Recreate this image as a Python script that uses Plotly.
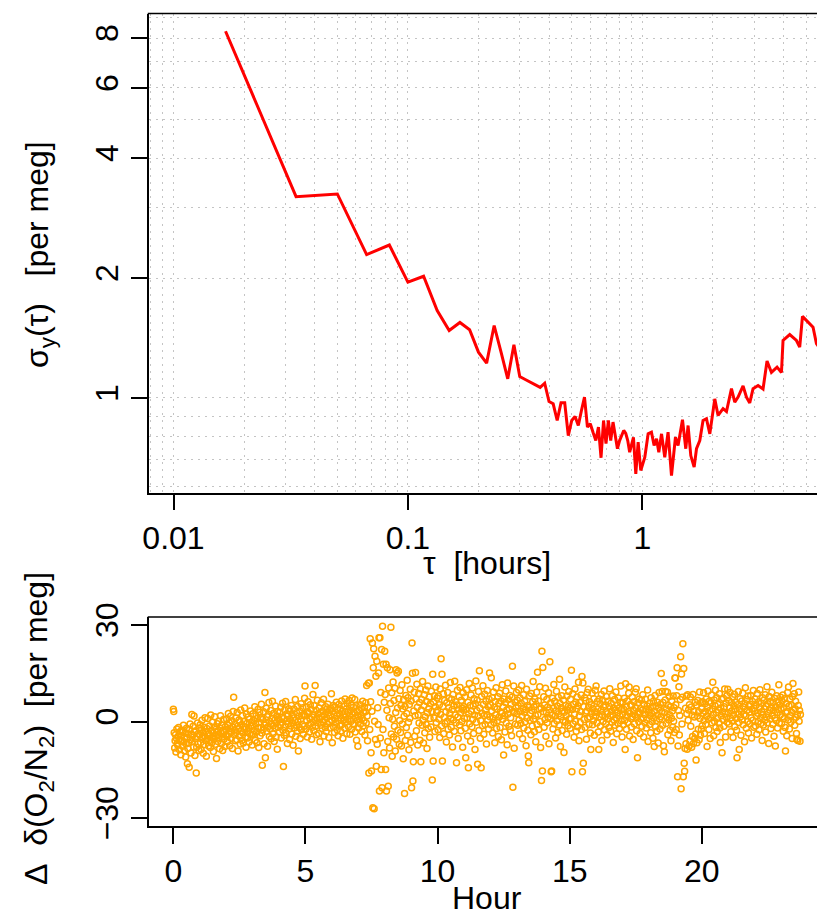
import plotly.graph_objects as go

# ---------------- Allan deviation (top panel) ----------------
tau_hours = [
    0.01667, 0.03333, 0.05, 0.06667, 0.08333, 0.1, 0.11667, 0.13333, 0.15, 0.16667,
    0.18333, 0.2, 0.21667, 0.23333, 0.25, 0.26667, 0.28333, 0.3, 0.31667, 0.33333,
    0.35, 0.36667, 0.38333, 0.4, 0.41667, 0.43333, 0.45, 0.46667, 0.48333, 0.5,
    0.51667, 0.53333, 0.55, 0.56667, 0.58333, 0.6, 0.61667, 0.63333, 0.65, 0.66667,
    0.68333, 0.7, 0.71667, 0.73333, 0.75, 0.76667, 0.78333, 0.8, 0.81667, 0.83333,
    0.85, 0.86667, 0.88333, 0.9, 0.91667,
    0.938, 0.960, 0.985, 1.025, 1.059, 1.094, 1.123, 1.150, 1.176, 1.208,
    1.247, 1.288, 1.332, 1.385, 1.421, 1.484, 1.533, 1.568, 1.610, 1.664,
    1.703, 1.759, 1.816, 1.878, 1.941, 2.038, 2.105, 2.211, 2.286, 2.401,
    2.480, 2.562, 2.691, 2.782, 2.873, 2.968, 3.118, 3.274, 3.405, 3.556,
    3.757, 3.923, 3.985, 4.256, 4.546, 4.695, 4.823, 5.094, 5.351, 5.533, 5.83,
]
allan_dev = [
    8.32, 3.20, 3.25, 2.29, 2.42, 1.952, 2.02, 1.658, 1.477, 1.547,
    1.483, 1.303, 1.223, 1.520, 1.30, 1.117, 1.360, 1.132, 1.113, 1.095,
    1.075, 1.063, 1.089, 0.980, 0.967, 0.878, 0.973, 0.973, 0.805, 0.878,
    0.899, 0.853, 0.930, 1.005, 0.845, 0.862, 0.819, 0.782, 0.845, 0.708,
    0.878, 0.768, 0.878, 0.782, 0.870, 0.805, 0.746, 0.782, 0.805, 0.829,
    0.815, 0.782, 0.731, 0.760, 0.797,
    0.645, 0.775, 0.658, 0.710, 0.813, 0.821, 0.760, 0.790, 0.731, 0.813,
    0.710, 0.821, 0.639, 0.797, 0.760, 0.882, 0.746, 0.853, 0.717, 0.671,
    0.746, 0.782, 0.878, 0.887, 0.813, 0.995, 0.904, 0.940, 0.925, 1.056,
    0.976, 1.005, 1.072, 1.005, 0.972, 1.055, 1.075, 1.053, 1.238, 1.159,
    1.195, 1.159, 1.394, 1.443, 1.394, 1.341, 1.602, 1.550, 1.505, 1.368, 1.31,
]
tau_tick_vals = [0.01, 0.1, 1]
tau_tick_text = ["0.01", "0.1", "1"]
adev_tick_vals = [1, 2, 4, 6, 8]
adev_tick_text = ["1", "2", "4", "6", "8"]

# ---------------- delta(O2/N2) one-minute data (bottom panel) ----------------
delta_h00_06 = [
    3.8, 3.1, -3.5, -8.2, -6.0, -4.1, -9.5, -5.2, -2.3, -6.8, -7.4, -4.6, -1.9, -5.5, -8.8, -3.2, -6.1, -10.3, -4.4, -2.7,
    -5.9, -7.7, -3.0, -1.2, -6.4, -9.1, -4.8, -3.6, -11.0, -7.0, -2.1, -5.0, -13.1, -8.4, -4.0, -6.6, -14.2, -2.5, -0.8, -5.7,
    -9.8, -3.9, 2.2, -6.3, -4.3, -1.5, -7.9, 1.7, -3.3, -10.6, -5.4, -2.9, -16.0, -8.0, -4.7, -0.5, -6.9, -3.7, -9.0, -2.0,
    -4.2, -1.0, -6.5, -8.7, -2.6, 0.4, -5.1, -3.4, -9.9, -7.2, -1.8, -4.5, 1.2, -3.1, -6.0, -10.8, -2.2, -5.3, 0.9, -4.0,
    -7.6, -3.8, -1.4, -5.8, -8.1, 2.0, -2.8, -6.7, -4.9, -0.2, -3.5, -9.3, -5.6, -1.7, 1.5, -4.4, -7.1, -2.4, -11.5, -3.0,
    -0.7, -6.2, -4.1, 0.1, -5.0, -8.5, -2.0, 1.8, -3.6, -6.9, -1.1, -4.8, -9.0, -2.9, 0.6, -5.5, -3.3, -7.8, -1.6, -4.3,
    -2.5, 0.8, -4.7, -6.3, -1.2, 2.5, -3.9, -0.4, -7.5, -2.1, 1.6, -5.2, -3.0, 0.2, -8.4, -1.8, 3.1, 7.5, -4.1, -2.7,
    -0.9, -6.0, 1.1, -3.4, -5.6, 2.8, -1.5, -9.2, -2.2, 0.5, -4.5, -0.1, -7.0, 3.6, -2.9, -1.0, -5.8, 1.9, -3.6, -6.7,
    0.0, -2.4, 4.2, -1.7, -4.8, -8.0, 2.3, -0.6, -3.2, -5.1, 1.4, -2.0, -6.4, 0.7, -3.8, 3.3, -1.3, -4.2, -0.3, -7.3,
    -1.5, 2.4, -4.0, 0.3, -2.8, 4.6, -5.9, -0.7, 1.8, -3.3, -6.6, 0.9, 3.7, -2.1, -8.1, -0.2, 2.9, -4.4, 1.2, -1.9,
    5.4, -3.6, -13.6, 0.6, -2.5, 3.0, -6.9, -1.1, 9.0, -11.3, -0.4, 4.1, -3.0, 1.5, -7.7, -1.6, 2.2, 5.9, -4.7, 0.0,
    -2.3, 3.4, -5.4, -0.9, 1.0, 6.3, -3.8, -1.3, 2.6, -6.2, 0.4, -2.0, 4.8, -4.9, -0.5, 1.7, -8.6, 3.1, -1.8, 0.8,
    0.5, -3.2, 2.9, -1.0, 4.4, -5.1, 1.3, -0.2, 5.7, -2.7, -14.0, 0.9, -4.3, 3.6, -1.6, 6.2, -3.5, 0.1, 2.4, -6.8,
    1.7, -0.8, 4.0, -2.3, -5.6, 3.2, 0.6, -1.4, 5.0, -3.9, 2.0, -0.5, -7.4, 1.1, 3.9, -2.0, 0.3, 6.8, -4.6, -1.2,
    2.7, -3.0, 4.7, 0.0, -9.2, 1.6, -1.9, 3.3, -5.3, 0.7, 5.5, -2.6, 1.9, -0.9, 4.3, -4.0, 2.2, -1.5, 7.2, 11.0,
    1.8, -2.4, 4.5, 0.2, -4.8, 3.0, 6.1, -1.1, 2.6, -3.3, 0.9, 5.2, -0.6, 3.8, -5.5, 1.4, -1.8, 8.4, 2.1, -2.9,
    4.9, 0.4, 11.2, -1.5, 3.5, -4.1, 1.0, 6.6, -0.3, 2.4, -3.7, 4.2, 0.8, -6.3, 2.9, -1.2, 5.8, 1.5, -2.2, 3.3,
    -0.1, 6.9, -4.5, 2.0, 0.6, -1.9, 4.6, -3.1, 1.2, 3.9, -0.8, 5.4, 2.7, -5.0, 0.0, 3.6, -2.0, 1.7, 4.1, 8.6,
]
delta_h06_12 = [
    0.3, -6.6, 3.1, 5.0, -1.7, 2.2, -3.4, 4.6, 0.9, -0.5, 6.0, 1.8, -2.6, 3.7, -4.4, 0.2, 5.3, 2.5, -1.3, 4.0,
    -3.0, 1.1, 6.4, -0.9, 3.2, -5.2, 2.0, 0.5, 4.8, -2.1, 7.0, 1.4, -0.2, 3.9, -3.8, 5.6, 0.7, 2.9, -1.6, 6.5,
    1.9, -4.0, 3.4, 0.0, 5.1, -2.4, 7.3, 2.3, -0.7, 4.4, -1.0, 2.7, 6.8, -3.3, 1.3, 4.9, -5.8, 0.4, 3.0, -7.7,
    1.5, -2.0, 3.4, 0.6, 5.2, -0.8, 2.1, 4.0, -3.1, 1.0, 6.3, -1.4, 2.8, 0.2, 4.5, -4.2, 3.0, 5.8, -0.5, 11.2,
    1.7, -6.0, 4.3, 11.9, -16.0, 12.0, -2.5, 25.7, 6.1, -9.7, -15.4, 3.2, 24.4, -26.8, 16.7, 22.6, -27.1, 0.1, 20.3, -5.6,
    14.1, -13.9, 18.7, -7.1, 4.3, -0.9, 15.1, 26.0, -21.6, 26.0, -5.1, 9.0, -14.9, 22.4, -20.6, 29.6, -2.5, 17.8, -9.7, 6.0,
    21.8, 8.4, -14.9, 17.8, -21.6, 3.5, 16.7, -6.2, -20.1, 10.4, 1.2, -8.2, 16.1, 5.6, 29.3, -3.9, 8.9, -10.8, 0.7, 12.3,
    -4.8, 6.5, -1.5, 10.3, -9.2, 2.8, 16.1, -5.5, 15.1, 4.2, -2.7, 15.6, 7.1, -7.1, 0.3, 9.6, -3.4, 5.0, -7.6, 11.4,
    -0.8, 3.9, -11.6, 6.8, 1.6, -22.4, 4.7, -5.9, 8.1, -1.9, 2.5, 12.8, -4.3, 7.4, -0.2, -8.8, 5.3, 1.0, 10.0, -6.5,
    6.4, -20.6, 24.4, 15.0, -18.5, -12.5, 3.3, 9.1, -4.6, 1.8, 15.2, 7.0, -2.9, 11.6, 4.4, -7.3, 2.0, 8.7, -0.5, 5.9,
    -5.8, 10.2, -12.5, 3.6, 6.8, -1.2, 12.4, 0.4, -6.7, 4.9, 8.3, -3.5, 1.5, 9.8, -0.9, 6.2, -8.4, 2.7, 11.0, -2.2,
    4.0, 7.6, -4.9, 0.9, 5.5, -1.7, 9.4, 3.1, -18.2, 14.7, -12.3, 6.0, 1.1, 8.0, -3.1, 4.6, 10.7, -0.3, 2.9, 7.3,
    3.4, -2.6, 7.9, 0.8, 5.2, -5.0, 10.1, 2.2, 19.5, -1.4, 14.7, -12.3, 4.7, 8.6, -3.8, 1.3, 6.5, -0.6, 11.3, 3.0,
    -6.4, 5.8, 0.1, 9.0, -2.4, 4.3, 7.2, -4.2, 2.5, 12.1, 1.0, -1.8, 6.9, 3.7, -7.9, 8.4, 0.5, 4.9, -3.0, 12.5,
    2.0, 6.1, -0.4, -12.8, 5.1, 9.7, 1.4, -5.3, 3.9, 7.7, -1.1, 10.6, 2.7, -2.9, 6.6, 0.0, 4.1, -8.0, 8.9, 3.5,
    4.6, 0.9, 7.6, -2.1, -11.3, 3.8, 9.9, 1.2, -4.5, 6.0, -14.4, 2.4, 11.8, -0.7, 5.0, -6.1, 8.2, 3.2, -1.6, 10.4,
    0.6, 4.8, -3.7, 7.1, 2.0, -8.7, 5.5, 12.6, -0.2, 3.4, 6.7, -13.3, 1.7, 9.3, -2.8, 15.8, 4.2, -5.2, 0.3, -14.4,
    7.8, 2.6, -1.3, 11.1, 5.3, -4.0, 1.9, 8.5, -0.9, 3.6, 6.3, -7.0, 2.2, 9.6, 0.4, 4.7, -2.3, 6.9, 15.1, 1.5,
]
delta_h12_18 = [
    5.2, -1.0, 13.6, 3.3, 7.4, -3.6, 1.0, 9.2, -0.3, 4.4, -6.6, 6.2, 2.1, 10.5, -2.2, 3.9, 0.2, 7.7, -4.7, 5.6,
    1.4, 8.8, -1.9, 3.0, 6.4, -5.7, 2.6, 11.4, 0.7, 4.5, -10.4, 7.0, 1.8, -3.3, 5.9, 9.5, -0.5, 3.6, -7.2, 12.0,
    2.3, 6.8, -1.5, 4.0, 8.1, -2.6, 1.2, 5.4, -4.4, 7.5, 17.2, -20.4, 3.1, 11.0, -8.3, 2.8, 6.0, -0.8, 4.3, 9.0,
    2.4, 6.6, -1.2, 4.9, 9.8, 0.5, -3.9, 7.3, 3.1, -0.6, 5.7, 11.2, 1.6, -5.4, 4.0, 8.3, -2.0, 2.9, 6.2, -0.1,
    3.7, -7.5, 10.0, 1.1, 5.0, -2.7, -10.7, -12.8, 4.4, 7.9, 0.3, 2.5, -4.1, 8.7, 3.4, -1.4, 6.1, 12.4, 0.8, 4.6,
    -3.2, 7.0, 1.9, -6.3, 5.3, 9.1, -0.9, 15.3, 2.2, 6.4, -2.5, 3.8, 10.8, 0.0, -8.1, 4.2, -18.3, 21.8, -15.4, 16.8,
    3.0, 7.7, -1.8, 5.1, 0.6, 10.3, -4.6, 2.7, 6.8, -0.4, 4.5, 1.3, 8.9, -6.9, 3.6, 18.6, 0.9, 5.8, -15.6, -15.4,
    2.0, 7.2, -2.3, 4.1, 11.5, -0.7, 6.3, 1.7, -5.1, 3.3, 9.4, 0.2, 4.8, -3.4, 7.5, 2.4, -1.1, 13.1, 5.6, -7.8,
    1.5, 4.3, 8.0, -2.8, 3.2, 0.4, 6.7, -9.6, 2.9, 10.7, -0.2, 5.0, 1.9, -4.0, 7.9, 3.5, -1.3, 4.7, 9.3, 0.8,
    4.1, -2.1, 6.9, 1.0, 15.9, -15.6, 3.7, 8.6, -0.8, 5.4, -4.9, 2.3, 10.1, 0.1, 6.0, -3.0, 3.9, 7.6, -1.6, 4.9,
    12.2, -6.0, 1.8, 5.9, -0.3, 3.1, 8.2, -2.5, 14.0, -15.6, 12.0, -13.0, 4.6, 0.6, 7.4, -1.9, 2.8, 6.5, -5.5, 3.3,
    9.0, 0.9, 10.0, 4.4, -0.9, 6.1, 1.4, -3.6, -8.7, 5.2, 2.6, 8.8, -1.0, 4.0, 0.3, 7.1, -4.3, 3.0, 9.7, 1.6,
    11.0, 2.9, -0.5, 6.2, 4.0, -3.3, -8.7, 7.0, 1.5, 5.5, -1.4, 3.4, 8.4, -5.9, 2.1, 6.6, 0.0, 4.5, 9.5, -2.6,
    1.3, 5.1, -0.7, 7.8, 3.0, -4.1, 2.4, 6.3, 0.8, -1.9, 4.7, 10.2, 1.9, -3.0, 5.7, 3.2, -0.2, 8.0, 2.0, -6.5,
    4.2, 0.5, 6.8, -1.2, 3.6, 9.2, 1.1, -3.8, 5.0, 2.7, -0.6, 7.3, 4.1, -2.2, 1.7, 6.0, 11.0, 0.2, 3.8, -4.8,
    2.3, 5.9, -1.0, 3.7, 7.2, 0.4, -8.7, 11.7, 4.6, -2.4, 1.8, 6.4, -0.3, 3.1, 8.8, 10.7, -4.5, 2.5, 5.3, 0.9,
    -1.7, 4.9, 7.6, 1.5, -5.6, 3.4, 6.1, -0.8, 2.0, 9.1, 4.3, 10.2, -2.9, 1.2, -11.3, 5.8, 3.0, -0.1, 7.0, 2.6,
    -3.7, 4.0, 0.7, 6.6, -1.5, 3.5, 8.3, 1.0, -4.8, 5.4, 2.2, -0.4, 6.9, 3.9, -2.0, 0.6, 4.8, 9.8, -6.2, 2.8,
]
delta_h18_24 = [
    3.6, -0.9, 5.7, 1.8, -3.5, 7.4, 2.5, 0.0, 4.4, -5.2, 6.3, 1.1, -7.8, 3.2, 8.1, -1.6, 4.8, 0.3, -3.0, 6.0,
    2.0, -6.7, 4.1, 9.0, 0.8, -2.3, 5.3, 1.5, 14.9, 3.0, 9.3, -1.2, 5.9, -7.5, 12.0, -9.4, 2.7, 6.7, 9.3, -0.6,
    3.9, 1.4, 9.1, -4.1, 5.0, 0.5, 7.8, 2.1, -2.7, 4.6, -6.0, 1.0, 6.4, 3.3, -1.8, 7.9, 0.1, 4.3, -3.4, 13.5,
    13.5, 5.2, -2.5, 8.0, 16.7, -17.2, -7.6, 3.4, 10.8, -4.2, 1.9, 6.8, 20.1, -20.9, 14.8, -0.8, 7.5, 24.2, -17.2, 16.5,
    -13.0, -15.5, -8.4, 4.1, -6.9, 7.9, 2.4, -8.6, 8.3, 0.4, 3.6, -7.7, 5.2, -6.1, 7.6, -1.5, 4.5, -8.0, 2.0, -4.7,
    8.4, -6.8, 3.2, 1.4, -5.3, 6.0, -3.9, -12.0, 5.1, -6.6, 1.7, 6.5, -2.4, 3.0, -5.7, 9.2, 0.9, -4.3, 5.8, -2.4,
    4.0, -1.3, 6.1, 2.6, 8.9, 0.3, -3.7, 5.5, 3.1, -0.9, 7.0, 1.6, -7.8, 4.4, 9.5, 0.7, -2.5, 6.3, 3.4, -5.3,
    1.2, 5.8, 8.2, -0.4, 3.9, 12.2, 2.1, -4.4, 6.7, 0.0, 4.9, 9.7, -1.9, 2.8, 7.4, -3.1, 1.0, 5.3, 3.6, -0.5,
    8.6, -2.0, -6.5, 4.2, 1.8, 6.9, -9.7, 3.0, 0.6, 7.2, -1.5, 4.6, 10.1, 2.3, -4.8, 5.7, 1.3, 8.0, -0.2, 10.0,
    2.7, 6.6, -0.8, 4.3, 9.0, 1.1, -3.2, 5.9, 3.3, 0.2, 7.7, -5.0, 2.0, 4.8, 8.5, -1.6, 3.7, 6.0, 0.9, -2.7,
    -11.3, 5.2, 2.4, 9.3, -0.3, -8.7, 4.0, 7.1, 1.5, -4.3, 3.1, 6.4, 0.5, 8.8, -1.0, 4.5, 2.2, -6.3, 5.6, 10.5,
    1.8, -2.1, 6.8, 3.5, 0.0, 7.9, -3.6, 4.9, 2.9, -0.7, 5.3, 8.1, 1.2, -5.1, 3.8, 6.2, 0.4, 9.6, -1.8, 4.1,
    3.2, 7.0, -1.4, 5.0, 1.7, -4.0, 8.7, 2.6, 0.0, 6.1, -2.6, 4.4, 9.9, 1.0, -0.6, 5.7, 3.0, -5.9, 7.4, 2.1,
    -1.1, 6.6, 3.9, 0.4, 8.3, -3.3, 4.7, 1.4, 10.8, -0.4, 5.5, 2.5, -6.8, 7.8, 3.6, 0.8, 6.3, -2.2, 4.2, 9.1,
    1.9, -0.9, 5.9, 3.4, -4.6, 7.2, 1.1, -7.6, 4.6, 0.3, 8.0, 2.8, -2.0, 6.0, 3.8, 11.4, -0.5, 5.1, 2.0, 7.5,
    3.9, -0.7, 6.4, 1.5, 8.2, -3.0, 4.3, 0.9, 7.1, -1.9, -9.2, 2.7, 5.6, -4.4, 3.1, 9.0, 0.5, 10.7, 4.8, -2.3,
    6.9, 1.8, -0.2, 5.2, 2.9, -5.3, 7.7, 11.8, 3.5, 0.6, 8.6, -1.2, 4.0, 6.3, 1.3, -3.7, -5.5, 2.2, -5.9, 5.0,
    9.2, 0.1, 3.4, -6.1, 2.2,
]
hour_tick_vals = [0, 5, 10, 15, 20]
delta_tick_vals = [-30, 0, 30]
sample_minutes = 1  # one-minute sampling

delta = delta_h00_06 + delta_h06_12 + delta_h12_18 + delta_h18_24
hours = [i * sample_minutes / 60.0 for i in range(len(delta))]

# ---------------- figure ----------------
W, H = 817, 915
FONT = "Liberation Sans, Arial, Helvetica, sans-serif"
FS = 32

def px_x(p):
    return p / W

def px_y(p):
    return 1 - p / H

grid_x = [a * 10 ** e for e in (-3, -2, -1, 0) for a in range(1, 10)]
grid_y = [a * 10 ** e for e in (-1, 0) for a in range(1, 10)]
GRIDC = "#c4c4c4"
GRIDD = "2px,5px"

fig = go.Figure()
fig.add_trace(go.Scatter(
    x=tau_hours, y=allan_dev, mode="lines",
    line=dict(color="#ff0000", width=3), xaxis="x", yaxis="y",
    showlegend=False, hoverinfo="skip"))
fig.add_trace(go.Scatter(
    x=hours, y=delta, mode="markers",
    marker=dict(symbol="circle-open", size=6, color="#ffa500",
                line=dict(width=1.5, color="#ffa500")),
    xaxis="x2", yaxis="y2", showlegend=False, hoverinfo="skip"))

top_l, top_t, top_b = 148.5, 13.5, 492.5
bot_t, bot_b = 617, 826

axis_common = dict(
    showline=True, linecolor="black", linewidth=1.5,
    ticks="outside", ticklen=16, tickwidth=1.5, tickcolor="black",
    tickfont=dict(family=FONT, size=FS, color="black"),
    zeroline=False, fixedrange=True, automargin=False,
)

fig.update_layout(
    width=W, height=H,
    margin=dict(l=0, r=0, t=0, b=0, autoexpand=False),
    paper_bgcolor="white", plot_bgcolor="white",
    font=dict(family=FONT, size=FS, color="black"),
    xaxis=dict(
        domain=[px_x(top_l), 1.0], anchor="y", type="log",
        range=[-2.1067, 0.7453],
        tickmode="array", tickvals=tau_tick_vals, ticktext=tau_tick_text,
        showgrid=True, gridcolor=GRIDC, griddash=GRIDD, gridwidth=1,
        minor=dict(tickmode="array", tickvals=grid_x, showgrid=True,
                   gridcolor=GRIDC, griddash=GRIDD, gridwidth=1, ticks=""),
        **axis_common),
    yaxis=dict(
        domain=[px_y(top_b), px_y(top_t)], anchor="x", type="log",
        range=[-0.2371, 0.9646],
        tickmode="array", tickvals=adev_tick_vals, ticktext=adev_tick_text,
        tickangle=-90,
        showgrid=True, gridcolor=GRIDC, griddash=GRIDD, gridwidth=1,
        minor=dict(tickmode="array", tickvals=grid_y, showgrid=True,
                   gridcolor=GRIDC, griddash=GRIDD, gridwidth=1, ticks=""),
        **axis_common),
    xaxis2=dict(
        domain=[px_x(top_l), 1.0], anchor="y2",
        range=[-0.94, 24.36],
        tickmode="array", tickvals=hour_tick_vals,
        showgrid=False, **axis_common),
    yaxis2=dict(
        domain=[px_y(bot_b), px_y(bot_t)], anchor="x2",
        range=[-32.48, 32.48],
        tickmode="array", tickvals=delta_tick_vals,
        tickangle=-90, showgrid=False, **axis_common),
)

# top edges of the boxes (right side lies beyond the visible page)
for yt in (top_t, bot_t):
    fig.add_shape(type="line", xref="paper", yref="paper",
                  x0=px_x(top_l - 0.75), x1=1.0, y0=px_y(yt), y1=px_y(yt),
                  line=dict(color="black", width=1.5), layer="above")

ann = [
    dict(text="τ\u00a0\u00a0[hours]", x=px_x(487), y=px_y(563), textangle=0),
    dict(text="Hour", x=px_x(487), y=px_y(898), textangle=0),
    dict(text="σ<sub>y</sub>(τ)\u00a0\u00a0\u00a0[per meg]", x=px_x(40), y=px_y(255), textangle=-90),
    dict(text="Δ\u00a0\u00a0δ(O<sub>2</sub>/N<sub>2</sub>)\u00a0\u00a0[per meg]", x=px_x(38), y=px_y(729), textangle=-90),
]
for a in ann:
    fig.add_annotation(xref="paper", yref="paper", showarrow=False,
                       xanchor="center", yanchor="middle",
                       font=dict(family=FONT, size=FS, color="black"), **a)

fig.write_html("out.html")
